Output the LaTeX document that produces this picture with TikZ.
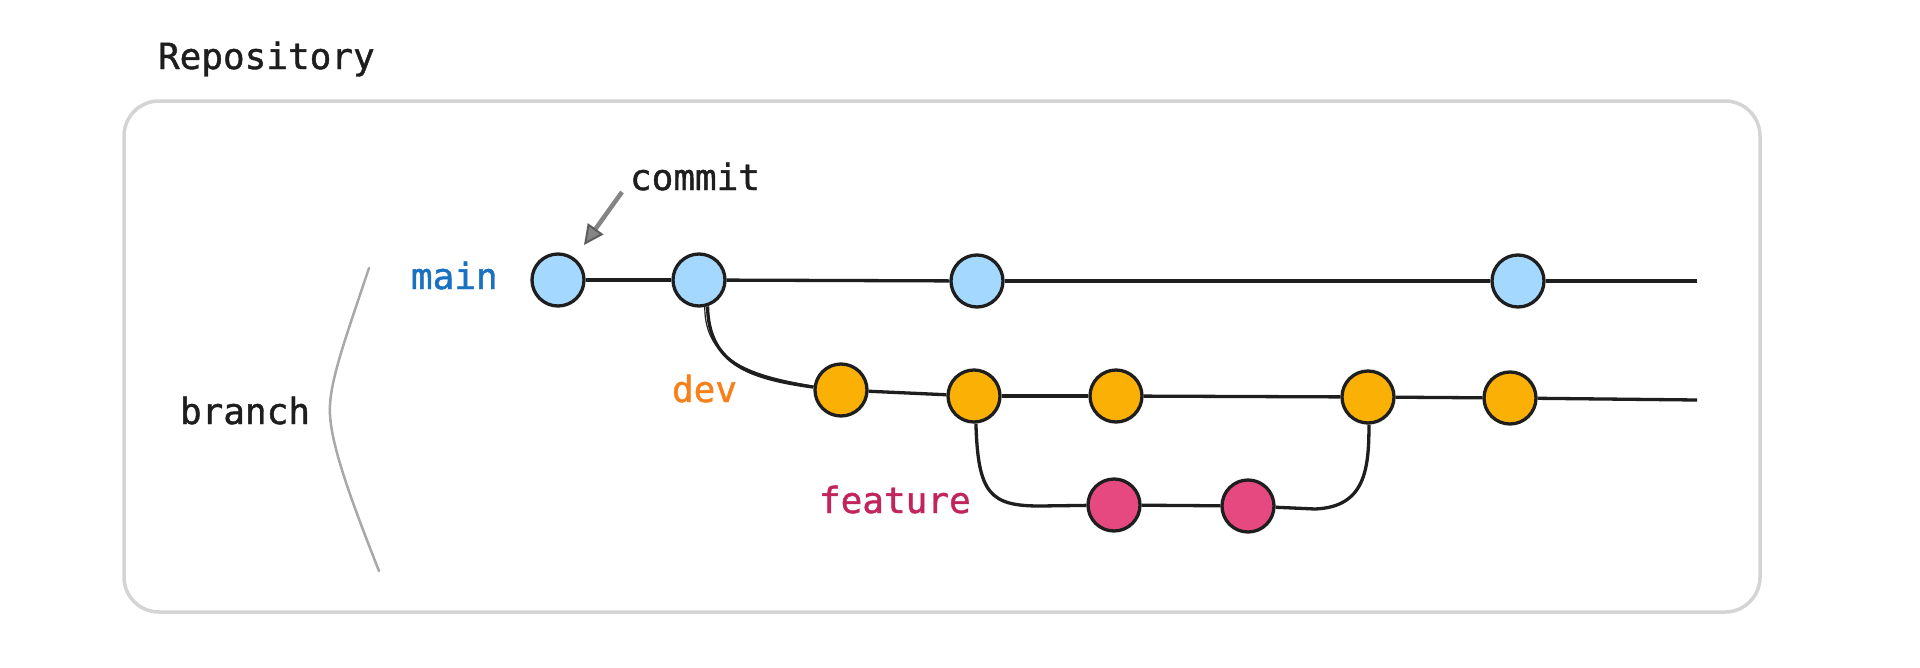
\documentclass[tikz,border=0pt]{standalone}
\usepackage{fontspec}
\newfontfamily\gitfont[FakeBold=1.2]{DejaVu Sans Mono}
\usetikzlibrary{arrows.meta}
\definecolor{mainfill}{HTML}{A5D8FF}
\definecolor{devfill}{HTML}{FAB005}
\definecolor{featfill}{HTML}{E64980}
\definecolor{ink}{HTML}{1E1E1E}
\definecolor{maintext}{HTML}{1971C2}
\definecolor{devtext}{HTML}{F7801A}
\definecolor{feattext}{HTML}{C2255C}
\definecolor{boxline}{HTML}{D4D4D4}
\definecolor{bracketgray}{HTML}{A8A8A8}
\definecolor{arrowgray}{HTML}{858585}
\definecolor{arrowhead}{HTML}{5E5E5E}
\tikzset{
  lbl/.style={anchor=base west, inner sep=0pt, outer sep=0pt,
    font=\gitfont\fontsize{36}{40}\selectfont},
  cnode/.style={circle, draw=ink, line width=3.3pt, minimum size=52pt, inner sep=0pt},
  mainc/.style={cnode, fill=mainfill},
  devc/.style={cnode, fill=devfill},
  featc/.style={cnode, fill=featfill},
  wire/.style={draw=ink, line width=3.3pt},
}
\begin{document}
\begin{tikzpicture}[x=1pt,y=-1pt]
\useasboundingbox (0,0) rectangle (1920,667);
\fill[white] (0,0) rectangle (1920,667);

% repository frame
\draw[boxline, line width=3.5pt, rounded corners=35pt] (124,101) rectangle (1760,612);

% labels
\node[lbl, text=ink] (repo) at (158,69) {Repository};
\node[lbl, text=ink] (committxt) at (630,190) {commit};
\node[lbl, text=maintext] (maintxt) at (411,289) {main};
\node[lbl, text=devtext] (devtxt) at (672,402) {dev};
\node[lbl, text=feattext] (feattxt) at (819,513) {feature};
\node[lbl, text=ink] (branchtxt) at (180,424) {branch};

% brace-like curve for branch
\draw[bracketgray, line width=2.5pt, line cap=round]
  (369,268) .. controls (345,340) and (328,385) .. (330,415)
            .. controls (332,450) and (355,510) .. (379,571);

% commits
\node[mainc] (m1) at (558,280) {};
\node[mainc] (m2) at (699,280) {};
\node[mainc] (m3) at (977,281) {};
\node[mainc] (m4) at (1518,281) {};
\node[devc] (d1) at (841,390) {};
\node[devc] (d2) at (974,396) {};
\node[devc] (d3) at (1116,396) {};
\node[devc] (d4) at (1368,397) {};
\node[devc] (d5) at (1510,398) {};
\node[featc] (f1) at (1114,505) {};
\node[featc] (f2) at (1248,506) {};

\coordinate (mend) at (1697,281);
\coordinate (dend) at (1697,400);
\coordinate (fl) at (1040,506);
\coordinate (fr) at (1315,509);
\coordinate (atail) at (622,192);
\coordinate (atip) at (584,245);

% main branch
\draw[wire] (m1) -- (m2);
\draw[wire] (m2) -- (m3);
\draw[wire] (m3) -- (m4);
\draw[wire] (m4) -- (mend);

% dev branch
\draw[wire] (m2.-72) .. controls +(1,58) and +(-64,-9) .. (d1.174);
\draw[ink, line width=1.2pt] (m2.-78) .. controls +(0,55) and +(-60,-10) .. (d1.172);
\draw[wire] (d1) -- (d2);
\draw[wire] (d2) -- (d3);
\draw[wire] (d3) -- (d4);
\draw[wire] (d4) -- (d5);
\draw[wire] (d5) -- (dend);

% feature branch
\draw[wire] (d2.-86) .. controls +(2,70) and +(-50,0) .. (fl) -- (f1);
\draw[wire] (f1) -- (f2);
\draw[wire] (f2) -- (fr) .. controls +(50,-2) and +(0,45) .. (d4.-88);

% commit pointer
\draw[arrowgray, line width=4.5pt,
  -{Triangle[length=20pt,width=19pt,fill=arrowgray,color=arrowhead,line width=2pt]}]
  (atail) -- (atip);
\end{tikzpicture}
\end{document}
